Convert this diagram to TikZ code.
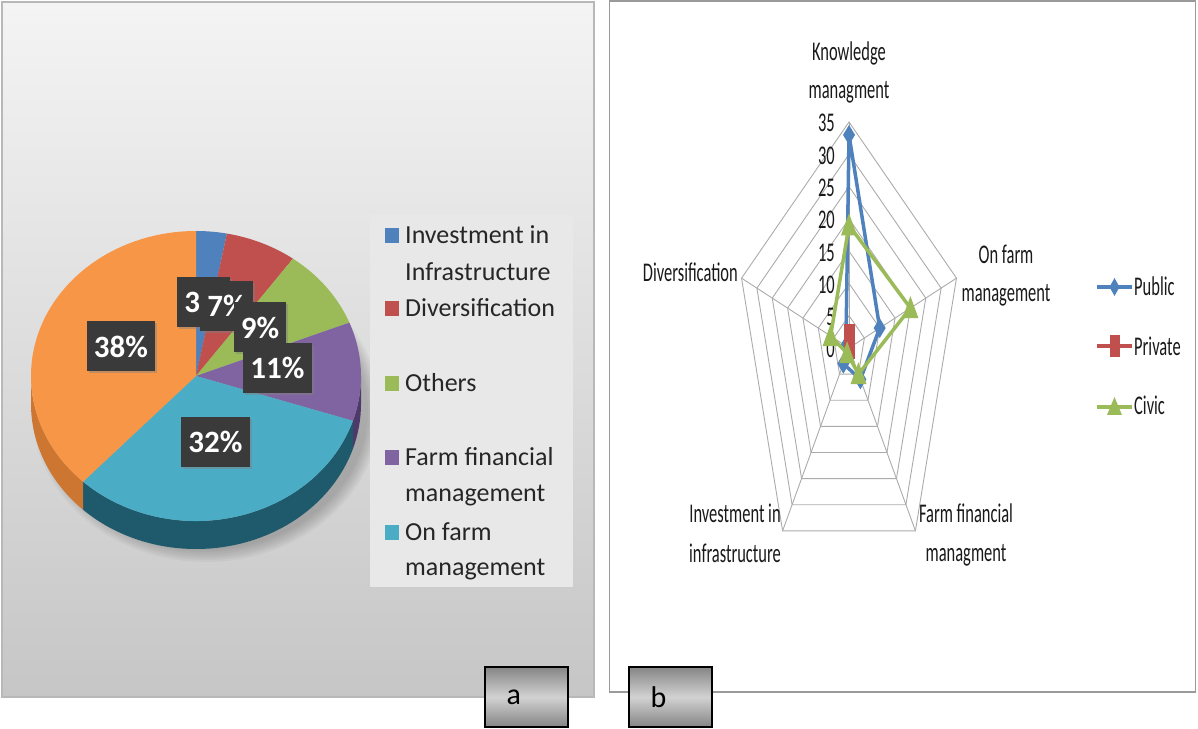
\documentclass[tikz,border=0pt]{standalone}
\usepackage{fontspec}
\setmainfont{Carlito}
\newfontfamily\narrowfont[FakeStretch=0.61]{Carlito}
\usetikzlibrary{shadows}
\definecolor{cblue}{HTML}{4F81BD}
\definecolor{cred}{HTML}{C0504D}
\definecolor{cgreen}{HTML}{9BBB59}
\definecolor{cpurple}{HTML}{8064A2}
\definecolor{ccyan}{HTML}{4BACC6}
\definecolor{corange}{HTML}{F79646}
\definecolor{sideorange}{HTML}{CC7632}
\definecolor{sidecyan}{HTML}{1F5A6C}
\definecolor{sidepurple}{HTML}{4E3A6A}
\definecolor{panelTop}{HTML}{F4F4F4}
\definecolor{panelMid}{HTML}{E0E0E0}
\definecolor{panelBot}{HTML}{C6C6C6}
\definecolor{panelEdge}{HTML}{B8B8B8}
\definecolor{legbg}{HTML}{E8E8E8}
\definecolor{labelbg}{HTML}{3A3A3A}
\definecolor{gridgray}{HTML}{ABABAB}
\definecolor{frameGray}{HTML}{9A9A9A}
\definecolor{boxDark}{HTML}{858585}
\definecolor{boxLight}{HTML}{D2D2D2}
\begin{document}
\begin{tikzpicture}[x=1pt,y=1pt,
  pct/.style={fill=labelbg, text=white, font=\bfseries\fontsize{31}{31}\selectfont,
    inner xsep=7pt, inner ysep=0pt, minimum height=50pt,
    drop shadow={opacity=0.45, shadow xshift=2pt, shadow yshift=-2pt}},
  legtext/.style={anchor=base west, text=black!85, font=\fontsize{26}{30}\selectfont, inner sep=0pt},
  axlabel/.style={anchor=base, text=black!90, font=\narrowfont\fontsize{27}{30}\selectfont, inner sep=0pt},
  sclabel/.style={anchor=base east, text=black!90, font=\narrowfont\fontsize{27}{30}\selectfont, inner sep=0pt},
  gridline/.style={draw=gridgray, line width=0.9pt},
  publine/.style={draw=cblue, line width=3.5pt, line join=round},
  privline/.style={draw=cred, line width=3.5pt, line join=round},
  civline/.style={draw=cgreen, line width=3.5pt, line join=round},
  tagbox/.style={draw=black, line width=2pt, top color=boxDark, bottom color=boxDark, middle color=boxLight,
    minimum width=83pt, minimum height=60pt, text width=40pt, align=left, inner xsep=21.5pt,
    font=\fontsize{30}{30}\selectfont}
]
\useasboundingbox (0,0) rectangle (1198,728);

% ---------- left panel ----------
\shade[top color=panelTop, middle color=panelMid, bottom color=panelBot] (2,31) rectangle (594,726);
\draw[panelEdge, line width=1.5pt] (2,31) rectangle (594,726);

% soft shadow under the pie
\foreach \k in {0,...,6}{
  \pgfmathsetmacro{\ra}{174-2*\k}
  \pgfmathsetmacro{\rb}{152-2*\k}
  \fill[black, opacity=0.03] (206,318) ellipse [x radius=\ra pt, y radius=\rb pt];
}

% pie sides
\fill[sidepurple] (196,352) ++(0:165pt and 145pt) arc[start angle=0, end angle=-18, x radius=165pt, y radius=145pt]
  -- ++(0,-28) arc[start angle=-18, end angle=0, x radius=165pt, y radius=145pt] -- cycle;
\fill[sidecyan] (196,352) ++(-18:165pt and 145pt) arc[start angle=-18, end angle=-133.2, x radius=165pt, y radius=145pt]
  -- ++(0,-28) arc[start angle=-133.2, end angle=-18, x radius=165pt, y radius=145pt] -- cycle;
\fill[sideorange] (196,352) ++(-133.2:165pt and 145pt) arc[start angle=-133.2, end angle=-180, x radius=165pt, y radius=145pt]
  -- ++(0,-28) arc[start angle=-180, end angle=-133.2, x radius=165pt, y radius=145pt] -- cycle;

% pie top face
\fill[cblue] (196,352) -- ++(90:165pt and 145pt) arc[start angle=90, end angle=79.2, x radius=165pt, y radius=145pt] -- cycle;
\fill[cred] (196,352) -- ++(79.2:165pt and 145pt) arc[start angle=79.2, end angle=54, x radius=165pt, y radius=145pt] -- cycle;
\fill[cgreen] (196,352) -- ++(54:165pt and 145pt) arc[start angle=54, end angle=21.6, x radius=165pt, y radius=145pt] -- cycle;
\fill[cpurple] (196,352) -- ++(21.6:165pt and 145pt) arc[start angle=21.6, end angle=-18, x radius=165pt, y radius=145pt] -- cycle;
\fill[ccyan] (196,352) -- ++(-18:165pt and 145pt) arc[start angle=-18, end angle=-133.2, x radius=165pt, y radius=145pt] -- cycle;
\fill[corange] (196,352) -- ++(-133.2:165pt and 145pt) arc[start angle=-133.2, end angle=-270, x radius=165pt, y radius=145pt] -- cycle;

% percentage labels
\node[pct] (p3)  at (203.5,426) {3\%};
\node[pct] (p7)  at (226.5,422) {7\%};
\node[pct] (p9)  at (260,400.5) {9\%};
\node[pct] (p11) at (277.5,360) {11\%};
\node[pct] (p38) at (121,381.5) {38\%};
\node[pct] (p32) at (215.5,286) {32\%};

% pie legend
\fill[legbg] (370,141) rectangle (573,513);
\fill[cblue]   (385,485) rectangle (399,500);
\fill[cred]    (385,412) rectangle (399,427);
\fill[cgreen]  (385,337) rectangle (399,352);
\fill[cpurple] (385,263) rectangle (399,278);
\fill[ccyan]   (385,188) rectangle (399,203);
\node[legtext] (l1a) at (405,484.5) {Investment in};
\node[legtext] (l1b) at (405,447.5) {Infrastructure};
\node[legtext] (l2)  at (405,411.5) {Diversification};
\node[legtext] (l3)  at (405,336.5) {Others};
\node[legtext] (l4a) at (405,262.5) {Farm financial};
\node[legtext] (l4b) at (405,226.5) {management};
\node[legtext] (l5a) at (405,187.5) {On farm};
\node[legtext] (l5b) at (405,152.5) {management};

% ---------- right panel ----------
\draw[frameGray, line width=1.5pt] (609.5,36) rectangle (1195.5,727);

\begin{scope}[shift={(849,380)}, x=3.22857pt, y=6.45714pt]
  \foreach \r in {5,10,...,35}
    \draw[gridline] (90:\r) -- (18:\r) -- (-54:\r) -- (-126:\r) -- (162:\r) -- cycle;
  \foreach \a in {90,18,-54,-126,162}
    \draw[gridline] (0,0) -- (\a:35);
  \coordinate (pub0) at (90:33);
  \coordinate (pub1) at (18:10);
  \coordinate (pub2) at (-54:6);
  \coordinate (pub3) at (-126:3);
  \coordinate (pub4) at (162:1);
  \coordinate (prv0) at (90:2);
  \coordinate (prv1) at (18:0);
  \coordinate (prv2) at (-54:0);
  \coordinate (prv3) at (-126:0);
  \coordinate (prv4) at (162:0);
  \coordinate (civ0) at (90:19);
  \coordinate (civ1) at (18:20);
  \coordinate (civ2) at (-54:5);
  \coordinate (civ3) at (-126:1);
  \coordinate (civ4) at (162:6);
\end{scope}

% scale labels
\foreach \r in {0,5,...,35}
  \node[sclabel] (s\r) at (835,{370+6.45714*\r}) {\r};

% series
\draw[publine] (pub0) -- (pub1) -- (pub2) -- (pub3) -- (pub4) -- cycle;
\foreach \p in {pub0,pub1,pub2,pub3,pub4}
  \fill[cblue] (\p) ++(0,10) -- ++(6,-10) -- ++(-6,-10) -- ++(-6,10) -- cycle;
\draw[privline] (prv0) -- (prv1) -- (prv2) -- (prv3) -- (prv4) -- cycle;
\foreach \p in {prv0,prv1,prv2,prv3,prv4}
  \fill[cred] (\p) ++(-5.5,-11) rectangle ++(11,22);
\draw[civline] (civ0) -- (civ1) -- (civ2) -- (civ3) -- (civ4) -- cycle;
\foreach \p in {civ0,civ1,civ2,civ3,civ4}
  \fill[cgreen] (\p) ++(0,12) -- ++(8,-22) -- ++(-16,0) -- cycle;

% axis labels
\node[axlabel] (k1) at (849,667) {Knowledge};
\node[axlabel] (k2) at (849,629) {managment};
\node[axlabel] (o1) at (1006,464) {On farm};
\node[axlabel] (o2) at (1006,426) {management};
\node[axlabel] (f1) at (966,205) {Farm financial};
\node[axlabel] (f2) at (966,166) {managment};
\node[axlabel] (i1) at (735,205) {Investment in};
\node[axlabel] (i2) at (735,165) {infrastructure};
\node[axlabel, anchor=base east] (d1) at (738,446) {Diversification};

% radar legend
\coordinate (lgpA) at (1097,441); \coordinate (lgpB) at (1132,441);
\draw[publine] (lgpA) -- (lgpB);
\fill[cblue] (1114.5,441) ++(0,9) -- ++(5,-9) -- ++(-5,-9) -- ++(-5,9) -- cycle;
\node[axlabel, anchor=base west] (lgp) at (1134,432) {Public};
\coordinate (lgrA) at (1097,382); \coordinate (lgrB) at (1132,382);
\draw[privline] (lgrA) -- (lgrB);
\fill[cred] (1114.5,382) ++(-5,-11) rectangle ++(10,22);
\node[axlabel, anchor=base west] (lgr) at (1134,372) {Private};
\coordinate (lgcA) at (1097,321); \coordinate (lgcB) at (1132,321);
\draw[civline] (lgcA) -- (lgcB);
\fill[cgreen] (1114.5,321) ++(0,10) -- ++(7.5,-18) -- ++(-15,0) -- cycle;
\node[axlabel, anchor=base west] (lgc) at (1134,313) {Civic};

% ---------- tags ----------
\node[tagbox] (taga) at (526.5,31) {a};
\node[tagbox] (tagb) at (670.5,31) {b};
\end{tikzpicture}
\end{document}
